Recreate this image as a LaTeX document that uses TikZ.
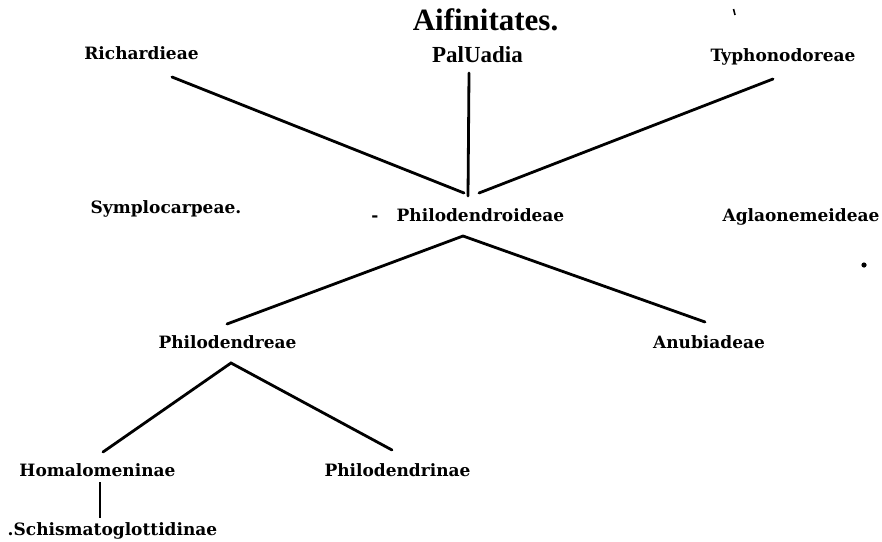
\documentclass[tikz,border=0pt]{standalone}
\usepackage{fontspec}
\setmainfont{Liberation Serif}
\newfontfamily\heavyfont{DejaVu Serif}
\usetikzlibrary{calc}

\begin{document}
\begin{tikzpicture}[x=1pt,y=-1pt,
  taxon/.style={inner sep=0pt,anchor=base,font=\heavyfont\bfseries\fontsize{17}{17}\selectfont},
  branch/.style={line width=2.8pt,line cap=round}]

% Frame of the page
\useasboundingbox (0,0) rectangle (882,541);

% Headings
\node[inner sep=0pt,anchor=base,font=\bfseries\fontsize{31}{31}\selectfont] (title) at (485.5,30) {Aifinitates.};
\node[inner sep=0pt,anchor=base,font=\bfseries\fontsize{23}{23}\selectfont] (pal) at (477.5,62) {PalUadia};

% Top row
\node[taxon] (rich) at (141.5,59) {Richardieae};
\node[taxon] (typh) at (783,61) {Typhonodoreae};

% Middle row
\node[taxon] (symp) at (166,213) {Symplocarpeae.};
\node[taxon] (mark) at (375,221) {-};
\node[taxon] (phd) at (480.5,221) {Philodendroideae};
\node[taxon] (agla) at (801,221) {Aglaonemeideae};

% Lower rows
\node[taxon] (phdr) at (227.5,348) {Philodendreae};
\node[taxon] (anub) at (709,348) {Anubiadeae};
\node[taxon] (homa) at (97.5,476) {Homalomeninae};
\node[taxon] (phdn) at (397.5,476) {Philodendrinae};
\node[taxon] (schi) at (112.5,535) {.Schismatoglottidinae};

% Stray marks
\fill (864,265) circle (2.6pt);
\draw[line width=1.6pt] (733.5,9) -- (735,15);

% Branches into Philodendroideae
\draw[branch] ($(rich.base)+(30.5,18)$) -- ($(phd.base)+(-16.5,-28)$);
\draw[branch] ($(pal.base)+(-8.5,11)$) -- ($(phd.base)+(-12.5,-25)$);
\draw[branch] ($(typh.base)+(-10,18)$) -- ($(phd.base)+(-1.5,-28)$);

% Branches below
\draw[branch] ($(phdr.base)+(-0.5,-24)$) -- ($(phd.base)+(-17.5,15)$) -- ($(anub.base)+(-4,-26)$);
\draw[branch] ($(homa.base)+(5.5,-24)$) -- ($(phdr.base)+(3.5,15)$) -- ($(phdn.base)+(-5.5,-26)$);
\draw[line width=1.6pt] ($(homa.base)+(2.5,6)$) -- ($(schi.base)+(-12.5,-17)$);

\end{tikzpicture}
\end{document}
